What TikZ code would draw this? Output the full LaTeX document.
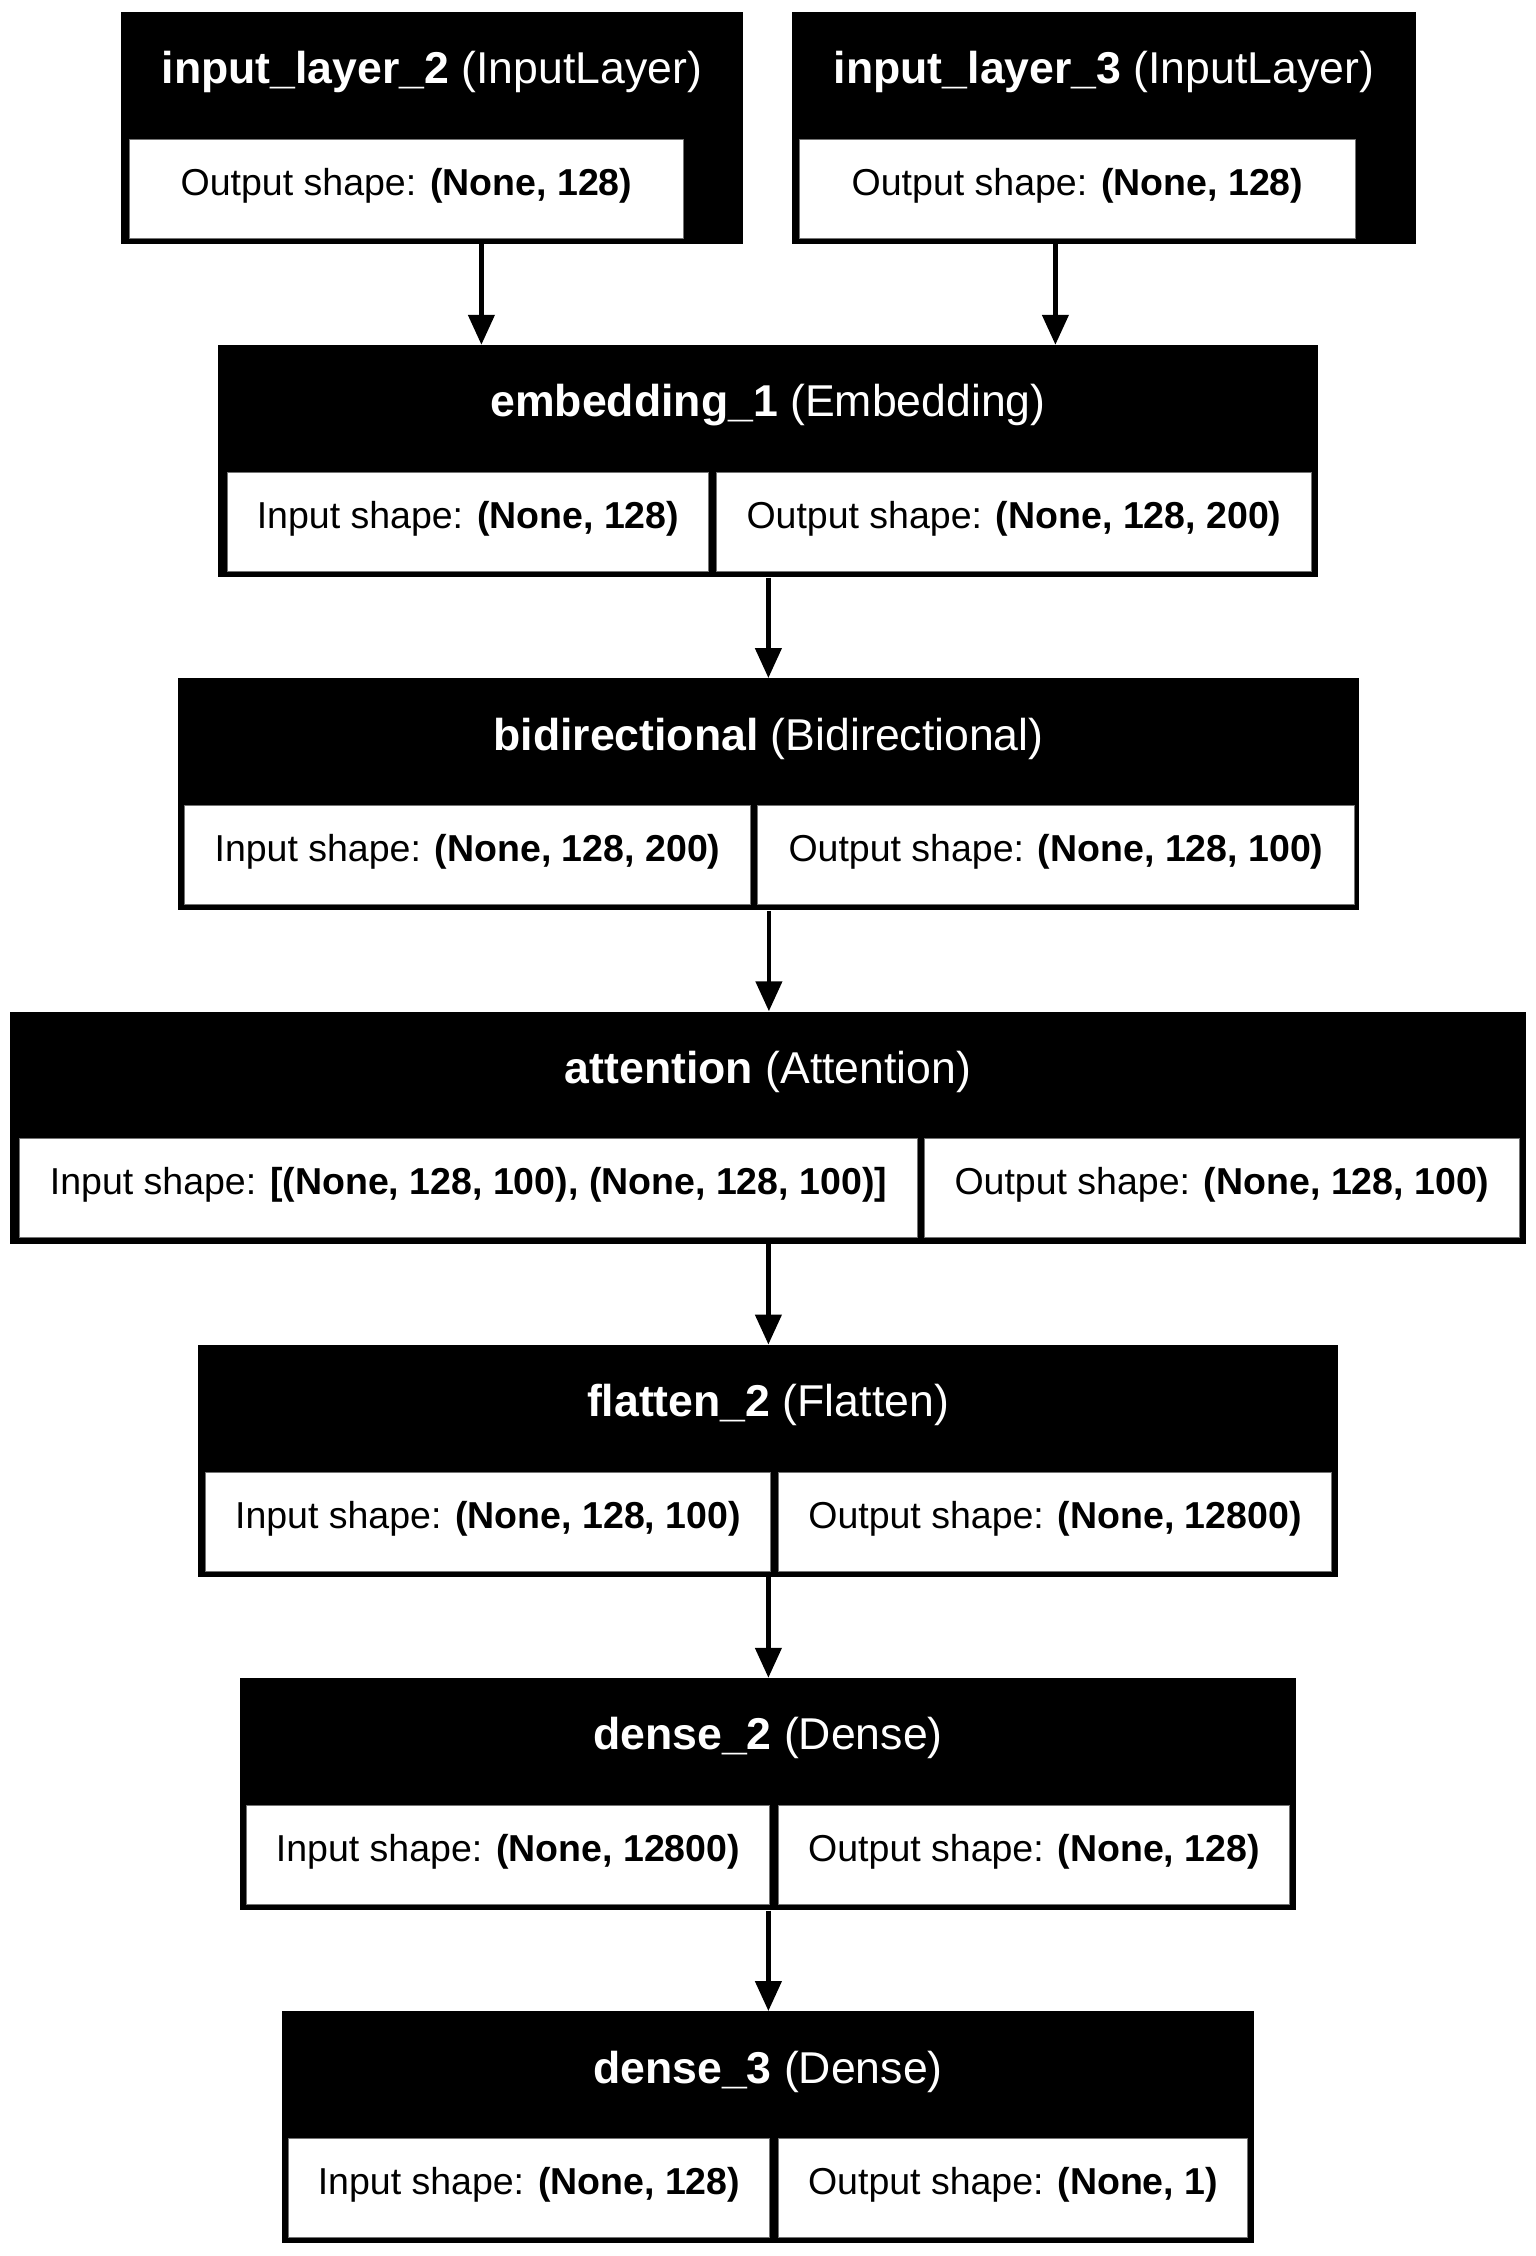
\documentclass[tikz,border=0pt]{standalone}
\usepackage{fontspec}
\setmainfont{Liberation Sans}
\usetikzlibrary{arrows.meta,calc}
\tikzset{
  layerbox/.style={fill=black, draw=none, inner sep=0pt, minimum height=116pt},
  titletext/.style={text=white, inner sep=0pt, font=\fontsize{22.3pt}{26pt}\selectfont},
  cellbox/.style={fill=white, draw=black!55, line width=0.5pt, inner sep=0pt, minimum height=49.5pt},
  celltext/.style={text=black, inner sep=0pt, font=\fontsize{18.75pt}{22pt}\selectfont},
  arr/.style={draw=black, line width=2.25pt, -{Triangle[length=15pt,width=13pt]}}
}
\newcommand{\lbox}[5]{%
  \node[layerbox, minimum width={(#4-#3)*0.5pt}, anchor=north west] (#1) at (#3,#2) {};
  \node[titletext] (#1-t) at ({(#3+#4)/2},{#2+60.5}) {#5};
}
\newcommand{\lcell}[5]{%
  \node[cellbox, minimum width={(#4-#3)*0.5pt}, anchor=north west] (#1) at (#3,{#2+127}) {};
  \node[celltext] (#1-t) at ([yshift=1.6pt]#1.center) {#5};
}
\begin{document}
\begin{tikzpicture}[x=0.5pt,y=-0.5pt]
\useasboundingbox[fill=white] (0,0) rectangle (1536,2256);

% input_layer_2
\lbox{il2}{11.5}{121}{743}{\textbf{input\_layer\_2} (InputLayer)}
\lcell{il2-o}{11.5}{129}{683}{Output shape: \textbf{(None, 128)}}
% input_layer_3
\lbox{il3}{11.5}{792}{1416}{\textbf{input\_layer\_3} (InputLayer)}
\lcell{il3-o}{11.5}{799}{1355}{Output shape: \textbf{(None, 128)}}
% embedding_1
\lbox{emb}{344.75}{218}{1318}{\textbf{embedding\_1} (Embedding)}
\lcell{emb-i}{344.75}{227}{708}{Input shape: \textbf{(None, 128)}}
\lcell{emb-o}{344.75}{716}{1311}{Output shape: \textbf{(None, 128, 200)}}
% bidirectional
\lbox{bid}{678}{178}{1359}{\textbf{bidirectional} (Bidirectional)}
\lcell{bid-i}{678}{184}{750}{Input shape: \textbf{(None, 128, 200)}}
\lcell{bid-o}{678}{757}{1354}{Output shape: \textbf{(None, 128, 100)}}
% attention
\lbox{att}{1011.25}{10}{1526}{\textbf{attention} (Attention)}
\lcell{att-i}{1011.25}{19}{917}{Input shape: \textbf{[(None, 128, 100), (None, 128, 100)]}}
\lcell{att-o}{1011.25}{924}{1519}{Output shape: \textbf{(None, 128, 100)}}
% flatten_2
\lbox{fla}{1344.5}{198}{1338}{\textbf{flatten\_2} (Flatten)}
\lcell{fla-i}{1344.5}{205}{770}{Input shape: \textbf{(None, 128, 100)}}
\lcell{fla-o}{1344.5}{778}{1331}{Output shape: \textbf{(None, 12800)}}
% dense_2
\lbox{den2}{1677.75}{240}{1296}{\textbf{dense\_2} (Dense)}
\lcell{den2-i}{1677.75}{246}{769}{Input shape: \textbf{(None, 12800)}}
\lcell{den2-o}{1677.75}{778}{1289}{Output shape: \textbf{(None, 128)}}
% dense_3
\lbox{den3}{2011}{282}{1254}{\textbf{dense\_3} (Dense)}
\lcell{den3-i}{2011}{288}{769}{Input shape: \textbf{(None, 128)}}
\lcell{den3-o}{2011}{778}{1247}{Output shape: \textbf{(None, 1)}}

% connectors
\coordinate (s1) at ([xshift=24.5pt]il2.south);
\coordinate (s2) at ([xshift=-24.5pt]il3.south);
\draw[arr] (s1) -- (s1 |- emb.north);
\draw[arr] (s2) -- (s2 |- emb.north);
\draw[arr] (emb.south) -- (emb.south |- bid.north);
\draw[arr] (bid.south) -- (bid.south |- att.north);
\draw[arr] (att.south) -- (att.south |- fla.north);
\draw[arr] (fla.south) -- (fla.south |- den2.north);
\draw[arr] (den2.south) -- (den2.south |- den3.north);
\end{tikzpicture}
\end{document}
